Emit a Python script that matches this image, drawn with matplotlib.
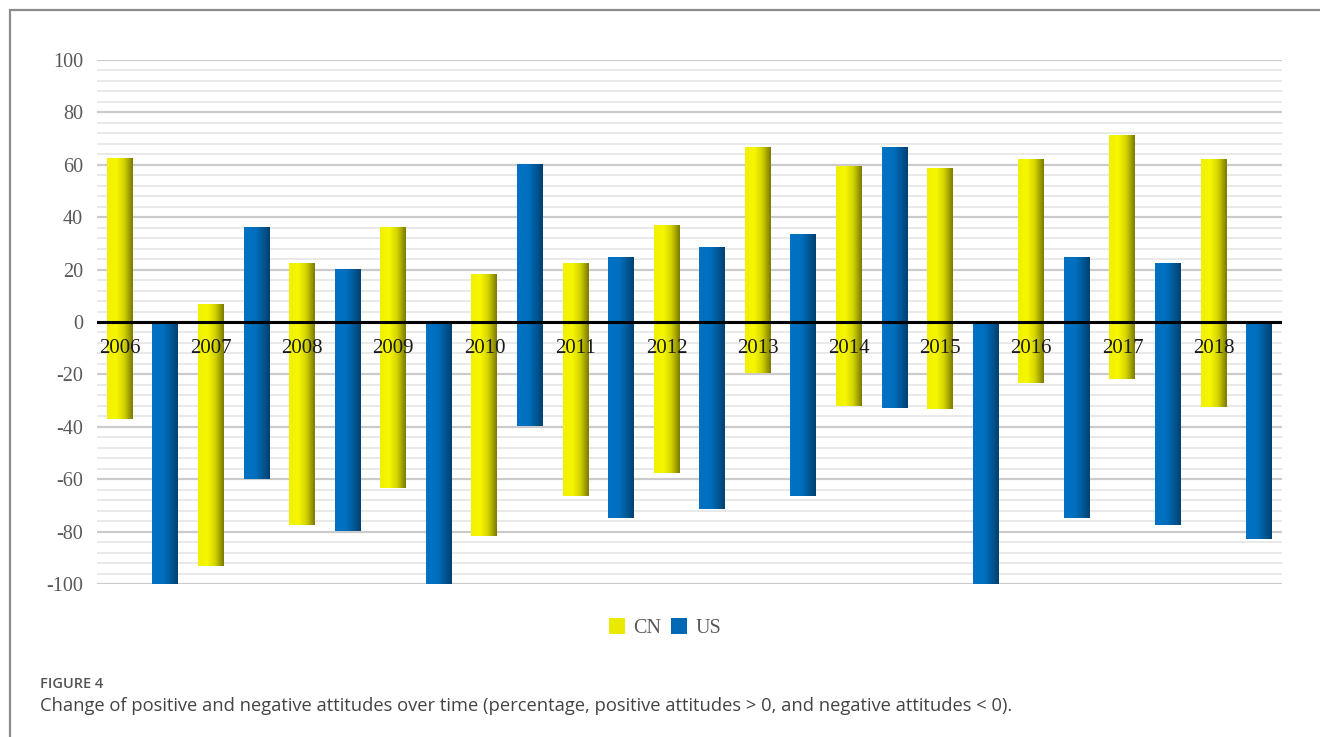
import numpy as np
import matplotlib
matplotlib.use("Agg")
import matplotlib.pyplot as plt
from matplotlib.colors import LinearSegmentedColormap
from matplotlib.patches import Patch, Rectangle

years = ["2006", "2007", "2008", "2009", "2010", "2011", "2012",
         "2013", "2014", "2015", "2016", "2017", "2018"]
cn_pos = [62.6, 6.9, 22.5, 36.3, 18.3, 22.5, 37.0, 66.8, 59.5, 58.8, 62.2, 71.4, 62.4]
cn_neg = [-37.0, -93.1, -77.5, -63.4, -81.7, -66.4, -57.6, -19.6, -32.0, -33.2, -23.4, -21.8, -32.5]
us_pos = [0, 36.2, 20.2, 0, 60.3, 24.8, 28.6, 33.6, 66.8, 0, 24.8, 22.5, 0]
us_neg = [-100, -60.0, -79.8, -100, -39.7, -74.8, -71.4, -66.4, -32.8, -100, -74.8, -77.5, -82.9]
series_names = ["CN", "US"]

yellow_cmap = LinearSegmentedColormap.from_list(
    "yel", [(0, "#f0f000"), (0.35, "#f7f700"), (0.65, "#d6d600"), (1, "#7a7a00")])
blue_cmap = LinearSegmentedColormap.from_list(
    "blu", [(0, "#0072c4"), (0.45, "#006fbe"), (1, "#00416f")])

W, H = 1320, 737
fig = plt.figure(figsize=(W / 100, H / 100), dpi=100)
fig.patch.set_facecolor("white")

# outer frame
fig.add_artist(Rectangle((10 / W, -0.05), 1.2, 1 - 10 / H + 0.05,
                         transform=fig.transFigure, fill=False,
                         edgecolor="#8c8c8c", linewidth=1.6))

ax = fig.add_axes([97 / W, 1 - 584 / H, 1185 / W, 524 / H])
ax.set_xlim(-0.5, 2 * len(years) - 0.5)
ax.set_ylim(-100, 100)

# grid
for v in np.arange(-100, 101, 4):
    if v % 20 == 0:
        ax.axhline(v, color="#cbcbcb", lw=1.6, zorder=0)
    else:
        ax.axhline(v, color="#e9e9e9", lw=1.4, zorder=0)

bw = 0.57
x_cn = np.arange(len(years)) * 2
x_us = x_cn + 1
grad = np.linspace(0, 1, 256).reshape(1, -1)


def draw_grad(bars, cmap):
    for b in bars:
        if b.get_height() == 0:
            continue
        x0, y0 = b.get_x(), b.get_y()
        im = ax.imshow(grad, cmap=cmap, aspect="auto",
                       extent=[x0, x0 + b.get_width(), y0, y0 + b.get_height()],
                       zorder=2, interpolation="bilinear")
        im.set_clip_path(b)


cn_bars = ax.bar(x_cn, np.array(cn_pos) - np.array(cn_neg), bottom=cn_neg,
                 width=bw, color="#e6e600", linewidth=0, zorder=1)
us_bars = ax.bar(x_us, np.array(us_pos) - np.array(us_neg), bottom=us_neg,
                 width=bw, color="#005fa8", linewidth=0, zorder=1)
draw_grad(cn_bars, yellow_cmap)
draw_grad(us_bars, blue_cmap)

ax.set_xlim(-0.5, 2 * len(years) - 0.5)
ax.set_ylim(-100, 100)

ax.axhline(0, color="black", lw=2.2, zorder=4)

for xi, yr in zip(x_cn, years):
    ax.text(xi, -10, yr, ha="center", va="center", fontsize=15,
            family="Liberation Serif", color="#1a1a1a", zorder=5)

ax.set_yticks(np.arange(-100, 101, 20))
ax.set_yticklabels([str(v) for v in range(-100, 101, 20)],
                   family="Liberation Serif", fontsize=14.5, color="#595959")
ax.tick_params(axis="y", length=0, pad=10)
ax.set_xticks([])
for s in ax.spines.values():
    s.set_visible(False)

handles = [Patch(facecolor="#eaea00", edgecolor="none"),
           Patch(facecolor="#0068b4", edgecolor="none")]
fig.legend(handles, series_names, loc="center", bbox_to_anchor=(665 / W, 1 - 628 / H),
           ncol=2, frameon=False, handlelength=0.8, handleheight=0.8,
           handletextpad=0.4, columnspacing=0.5,
           prop={"family": "Liberation Serif", "size": 14.5}, labelcolor="#595959")

fig.text(40 / W, 1 - 684 / H, "FIGURE 4", fontsize=10.5, family="Open Sans",
         weight="semibold", color="#555555", va="center", ha="left")
fig.text(40 / W, 1 - 706 / H,
         "Change of positive and negative attitudes over time (percentage, positive attitudes > 0, and negative attitudes < 0).",
         fontsize=13.2, family="Open Sans", color="#444444", va="center", ha="left")

fig.savefig("out.png", dpi=100)
